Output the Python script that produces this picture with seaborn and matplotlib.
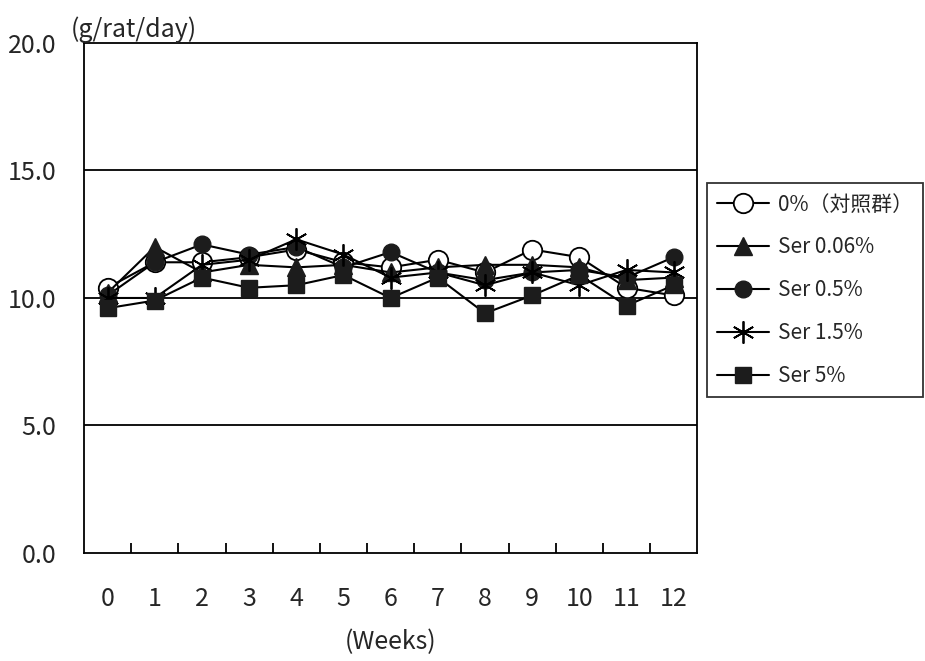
import numpy as np
import pandas as pd
import matplotlib
matplotlib.use('Agg')
import matplotlib.pyplot as plt
import seaborn as sns
from matplotlib.ticker import MultipleLocator, FixedLocator

# data (g/rat/day)
weeks = list(range(13))
ctrl = [10.4, 11.4, 11.4, 11.6, 11.9, 11.4, 11.2, 11.5, 11.0, 11.9, 11.6, 10.4, 10.1]
ser006 = [10.2, 12.0, 11.0, 11.3, 11.2, 11.3, 11.0, 11.2, 11.3, 11.3, 11.2, 10.7, 10.8]
ser05 = [10.1, 11.4, 12.1, 11.7, 12.0, 11.2, 11.8, 11.0, 10.7, 11.0, 11.1, 10.8, 11.6]
ser15 = [10.0, 10.0, 11.3, 11.5, 12.3, 11.7, 10.8, 11.0, 10.5, 11.0, 10.5, 11.1, 11.0]
ser5 = [9.6, 9.9, 10.8, 10.4, 10.5, 10.9, 10.0, 10.8, 9.4, 10.1, 10.9, 9.7, 10.5]

labels = ['0%（対照群）', 'Ser 0.06%', 'Ser 0.5%', 'Ser 1.5%', 'Ser 5%']
series = [ctrl, ser006, ser05, ser15, ser5]

sns.set_style('white')
plt.rcParams['font.family'] = ['Noto Sans CJK JP', 'DejaVu Sans']

fig = plt.figure(figsize=(9.25, 6.61), dpi=100)
ax = fig.add_axes([0.0908, 0.1634, 0.663, 0.7716])

dark = '#1c1c1c'
styles = [
    dict(marker='o', markersize=14, markerfacecolor='white', markeredgecolor='black', markeredgewidth=1.3),
    dict(marker='^', markersize=13, markerfacecolor=dark, markeredgecolor=dark, markeredgewidth=1),
    dict(marker='o', markersize=12, markerfacecolor=dark, markeredgecolor=dark, markeredgewidth=1),
    dict(marker=(6, 2, 0), markersize=16, markeredgecolor='black', markeredgewidth=1.3),
    dict(marker='s', markersize=11, markerfacecolor=dark, markeredgecolor=dark, markeredgewidth=1),
]

for lab, vals, st in zip(labels, series, styles):
    sns.lineplot(x=weeks, y=vals, ax=ax, color='black', linewidth=1.5, label=lab, **st)

# axes
ax.set_xlim(-0.5, 12.5)
ax.set_ylim(0, 20)
ax.yaxis.set_major_locator(MultipleLocator(5))
ax.set_yticklabels([f'{v:.1f}' for v in ax.get_yticks()])
ax.set_xticks(weeks)
ax.xaxis.set_minor_locator(FixedLocator(np.arange(0.5, 12, 1)))
ax.tick_params(axis='x', which='major', length=0, pad=24, labelsize=18)
ax.tick_params(axis='x', which='minor', direction='in', length=7, width=1.3, color='black', bottom=True)
ax.tick_params(axis='y', length=0, pad=20, labelsize=18)
for sp in ax.spines.values():
    sp.set_color('black')
    sp.set_linewidth(1.3)
for yv in [5, 10, 15]:
    ax.axhline(yv, color='black', linewidth=1.3, zorder=0.5)

ax.set_xlabel('(Weeks)', fontsize=18, labelpad=12)
ax.set_ylabel('')
fig.text(0.076, 0.955, '(g/rat/day)', fontsize=18, ha='left', va='center')

leg = ax.legend(loc='upper left', bbox_to_anchor=(0.764, 0.723), bbox_transform=fig.transFigure,
                frameon=True, fancybox=False, edgecolor='black', fontsize=15,
                handlelength=2.5, labelspacing=1.0, handletextpad=0.4, borderpad=0.5,
                borderaxespad=0)
leg.get_frame().set_linewidth(1.3)

fig.savefig('out.png', dpi=100)
